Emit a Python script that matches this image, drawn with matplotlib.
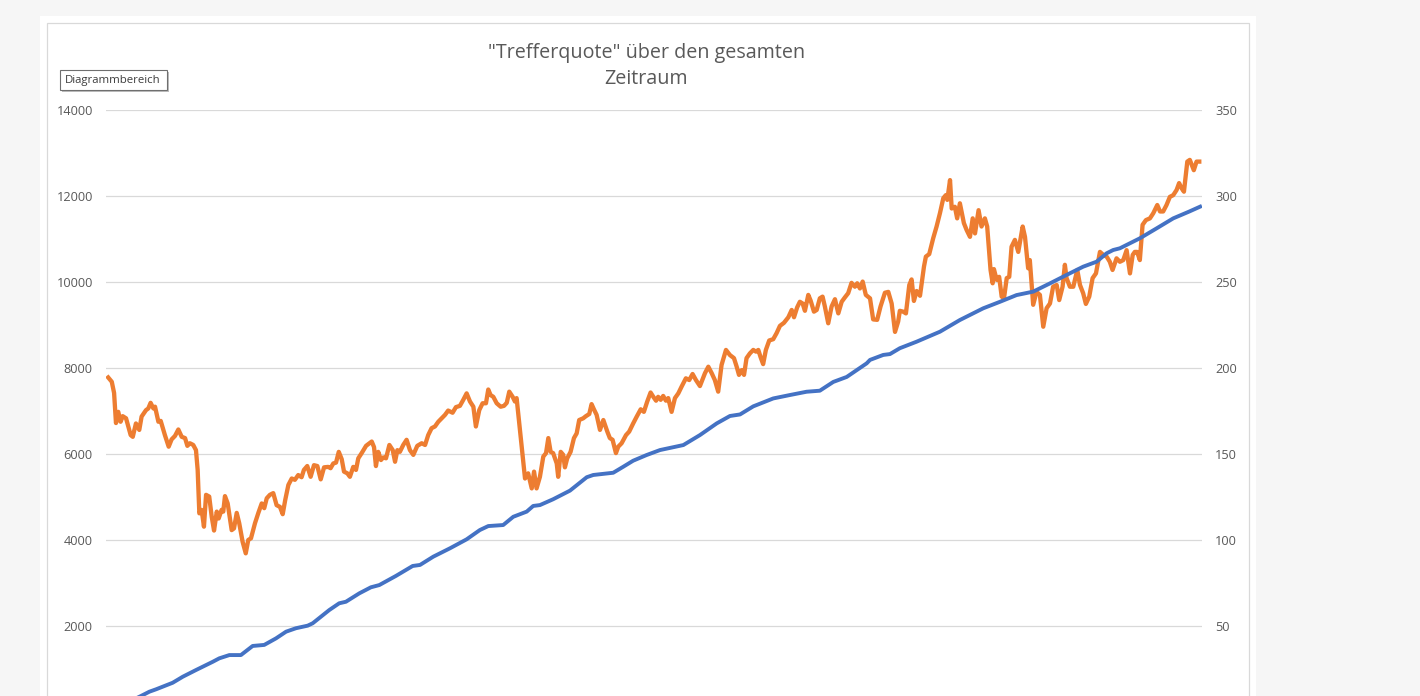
import matplotlib.pyplot as plt
from matplotlib.patches import Rectangle

W, H, DPI = 1420, 696, 100

TITLE_LINES = ['"Trefferquote" über den gesamten', "Zeitraum"]
TOOLTIP = "Diagrammbereich"

# orange series (left axis), x = week index
dax_week = [0.1, 1.8, 2.9, 3.8, 4.9, 6.0, 7.0, 8.6, 10.8, 11.8, 13.3, 14.9, 16.0, 18.1, 19.2,
            20.3, 21.6, 22.4, 24.0, 25.1, 27.1, 28.9, 30.3, 31.9, 33.5, 35.1, 36.7, 37.8, 39.0,
            40.6, 41.9, 42.7, 43.5, 44.6, 45.7, 46.7, 48.2, 49.4, 50.5, 51.8, 52.7, 54.1, 54.9,
            55.7, 57.0, 58.9, 60.0, 61.3, 62.5, 64.1, 65.6, 66.8, 68.1, 70.0, 71.6, 73.2, 74.4,
            75.6, 77.1, 78.7, 80.3, 81.9, 83.2, 84.4, 85.9, 87.5, 89.0, 90.6, 92.2, 93.3, 94.9,
            96.5, 98.1, 99.7, 101.3, 102.9, 104.9, 106.0, 107.3, 108.6, 109.9, 111.3, 112.4,
            114.0, 115.2, 116.8, 118.1, 119.2, 120.8, 122.9, 125.6, 126.7, 127.6, 128.7, 130.0,
            131.1, 132.4, 134.0, 135.6, 136.7, 137.8, 139.0, 140.6, 142.2, 143.8, 145.4, 147.3,
            149.4, 151.0, 152.5, 154.1, 155.7, 157.3, 158.9, 160.5, 162.0, 164.1, 165.7, 167.6,
            169.2, 170.8, 172.4, 174.0, 175.2, 176.8, 178.4, 180.0, 181.1, 182.2, 183.5, 185.1,
            187.0, 188.6, 189.9, 191.1, 192.7, 193.8, 194.6, 196.2, 197.5, 198.6, 200.1, 201.8,
            202.9, 204.1, 205.7, 207.3, 208.6, 209.7, 210.8, 212.0, 213.7, 214.4, 215.6, 216.8,
            217.6, 218.7, 220.3, 221.9, 223.2, 224.4, 226.3, 227.6, 229.2, 230.3, 231.4, 232.7,
            234.3, 235.9, 237.8, 239.0, 240.3, 241.9, 243.0, 244.6, 246.7, 248.2, 250.1, 251.8,
            253.7, 255.2, 256.8, 258.4, 259.7, 261.0, 262.0, 263.2, 264.4, 265.7, 266.8, 268.4,
            270.0, 271.6, 273.2, 275.2, 276.8, 278.4, 280.0, 281.9, 284.3, 285.9, 287.5, 289.0,
            290.6, 292.2, 294.3, 296.2, 298.1, 299.4, 300.5, 301.8, 302.9, 304.1, 305.7, 307.3,
            308.6, 309.7, 310.8, 312.0, 313.3, 314.9, 316.8, 318.4, 320.0, 321.9, 324.0, 325.6,
            326.7, 328.2, 329.5, 330.8, 331.9, 333.5, 334.6, 336.2, 337.5, 339.0, 340.3, 341.4,
            343.0, 344.6, 346.2, 347.8, 349.4, 350.9, 352.5, 354.1, 355.7, 356.8, 358.1, 359.4,
            360.9, 362.9, 364.4, 366.3, 367.9, 370.0, 371.6, 373.2, 374.8, 376.3, 377.1, 378.7,
            380.0, 381.6, 382.7, 383.8, 385.1, 386.7, 388.6, 389.5, 391.1, 393.0, 394.6, 396.2,
            397.8, 399.0, 399.7, 401.0, 401.8, 403.3, 404.4, 405.7, 407.6, 408.9, 410.5, 411.8,
            412.9, 414.6, 416.0, 417.6, 418.7, 420.3, 421.3, 421.9, 423.2, 424.4, 425.6, 426.7,
            428.0, 429.2, 430.3, 431.9, 433.5, 435.6, 436.7, 438.2, 439.0, 440.6, 442.2, 443.8,
            445.4, 447.0, 448.6, 450.1, 451.8, 453.0, 454.6, 455.7, 456.5, 458.1, 459.7, 461.6,
            462.9, 464.4, 465.7, 467.3, 468.9, 470.5, 472.4, 474.0, 475.6, 477.1, 478.4, 480.3,
            481.9, 483.5, 485.1, 486.7, 488.0, 489.0, 490.1, 491.4, 492.7, 494.3, 496.2, 497.8,
            499.7, 501.0, 502.5, 504.1, 505.7, 507.3, 508.9, 510.1, 511.3, 512.4, 514.0, 515.2,
            517.1, 518.4, 519.7]
dax_value = [7780, 7680, 7420, 6720, 6980, 6750, 6880, 6830, 6440, 6400, 6710, 6560, 6870, 7020, 7060,
             7190, 7060, 7100, 6750, 6770, 6440, 6170, 6340, 6420, 6570, 6400, 6370, 6190, 6250,
             6210, 6090, 5630, 4620, 4700, 4310, 5050, 5010, 4540, 4220, 4660, 4500, 4700, 4660,
             5020, 4850, 4230, 4270, 4630, 4390, 3960, 3690, 4000, 4040, 4390, 4630, 4850, 4740,
             4970, 5050, 5090, 4810, 4770, 4600, 4930, 5280, 5430, 5400, 5510, 5460, 5630, 5720,
             5470, 5740, 5720, 5410, 5690, 5700, 5670, 5780, 5800, 6050, 5880, 5590,
             5550, 5470, 5700, 5630, 5900, 6020, 6190, 6290, 6160, 5720, 6050, 5860,
             5920, 5900, 6210, 6090, 5820, 6090, 6050, 6210, 6330, 6090, 5980, 6190,
             6250, 6210, 6440, 6600, 6640, 6750, 6830, 6910, 7010, 6960, 7090, 7120,
             7260, 7410, 7220, 7100, 6640, 7020, 7180, 7180, 7500, 7370, 7330, 7180,
             7100, 7120, 7190, 7450, 7330, 7220, 7300, 6560, 5940, 5430, 5550, 5200,
             5590, 5200, 5470, 5940, 6020, 6370, 6050, 6020, 5780, 5470, 6050, 5980,
             5690, 5900, 6050, 6370, 6480, 6790, 6830, 6880, 6930, 7160, 7040, 6910,
             6560, 6790, 6520, 6370, 6330, 6020, 6170, 6250, 6440, 6520, 6710, 6870,
             7040, 6980, 7220, 7430, 7330, 7240, 7330, 7260, 7350, 7240, 7300, 6980,
             7300, 7410, 7570, 7760, 7720, 7860, 7720, 7580, 7880, 8030, 7880, 7720,
             7450, 8070, 8420, 8300, 8230, 8030, 7840, 7950, 7840, 8230, 8340, 8420,
             8380, 8420, 8250, 8090, 8420, 8640, 8670, 8810, 8980, 9050, 9180, 9350,
             9180, 9410, 9540, 9500, 9330, 9700, 9570, 9310, 9350, 9620, 9660, 9430,
             9040, 9430, 9600, 9270, 9540, 9640, 9740, 9980, 9890, 9970, 9850, 10010,
             9700, 9620, 9130, 9120, 9430, 9750, 9770, 9500, 8840, 9080, 9330, 9310,
             9270, 9930, 10060, 9560, 9790, 9680, 10360, 10590, 10650, 11020, 11290, 11600,
             11950, 12020, 11910, 12370, 11710, 11750, 11480, 11830, 11370, 11210, 11050, 11480,
             11130, 11670, 11290, 11480, 11290, 10280, 9970, 10300, 10050, 10120, 9660, 9620,
             10090, 10120, 10820, 10980, 10700, 11290, 11050, 10320, 10510, 9470, 9770, 9700,
             8960, 9390, 9500, 9890, 9930, 9580, 9890, 10400, 10090, 9890, 9890, 10280,
             9930, 9740, 9490, 9660, 10090, 10200, 10700, 10630, 10590, 10470, 10280, 10550,
             10470, 10510, 10740, 10200, 10630, 10700, 10700, 10510, 11330, 11440, 11480, 11600,
             11790, 11640, 11640, 11790, 11980, 12020, 12140, 12300, 12180, 12100, 12800, 12840,
             12600, 12800, 12800]

# blue series (right axis)
hits_week = [0.0, 15.7, 19.7, 22.9, 30.8, 35.6, 41.9, 49.9, 53.0, 57.8, 63.3, 68.9, 74.4, 80.0,
             84.8, 89.5, 95.1, 97.5, 105.4, 110.1, 113.3, 119.7, 125.2, 129.2, 137.1, 145.1,
             148.6, 154.9, 162.9, 170.8, 177.1, 181.1, 188.2, 193.0, 199.4, 202.5, 205.7, 212.0,
             220.0, 228.0, 231.1, 240.6, 245.4, 250.1, 256.5, 262.9, 274.0, 281.9, 289.9, 296.2,
             301.0, 307.3, 316.8, 324.8, 332.7, 339.0, 345.4, 351.8, 361.3, 362.9, 369.2, 372.4,
             377.1, 385.1, 396.2, 405.7, 416.8, 424.8, 432.7, 440.6, 448.6, 456.5, 464.4, 470.8,
             475.6, 478.7, 481.9, 491.4, 499.4, 507.3, 514.8, 520.1]
hits_value = [0.0, 9.3, 11.8, 13.2, 17.0, 20.5, 24.4, 29.2, 31.2, 33.1, 33.1, 38.4, 39.0, 42.8,
              46.7, 48.7, 50.2, 51.6, 59.3, 63.2, 64.1, 69.0, 72.5, 73.8, 79.1, 84.9,
              85.5, 90.3, 95.2, 100.4, 105.8, 108.1, 108.7, 113.5, 116.5, 119.8, 120.3, 123.7,
              128.7, 136.5, 137.8, 139.1, 142.6, 146.1, 149.4, 152.3, 155.2, 161.0, 167.8, 172.1,
              173.0, 177.7, 182.3, 184.3, 186.2, 186.8, 191.9, 194.8, 202.7, 204.7, 207.6, 208.1,
              211.5, 215.3, 221.1, 227.9, 234.7, 238.5, 242.4, 244.4, 249.2, 254.1, 258.9, 261.8,
              266.7, 268.6, 269.6, 275.4, 281.2, 287.0, 290.9, 293.8]

# the 0 labels sit below the visible part of the chart
left_ticks = [2000, 4000, 6000, 8000, 10000, 12000, 14000]
right_ticks = [50, 100, 150, 200, 250, 300, 350]

ORANGE = "#ED7D31"
BLUE = "#4472C4"
TXT = "#595959"
FONT = ["Open Sans", "DejaVu Sans"]


def fx(px):
    return px / W


def fy(py):
    return 1 - py / H


def main():
    plt.rcParams["font.family"] = FONT
    fig = plt.figure(figsize=(W / DPI, H / DPI), dpi=DPI, facecolor="#f6f6f6")

    # chart area (white panel with thin border), runs past the bottom edge
    fig.add_artist(Rectangle((fx(40), fy(730)), fx(1256) - fx(40), fy(16) - fy(730),
                             transform=fig.transFigure, facecolor="white", edgecolor="none", zorder=0))
    fig.add_artist(Rectangle((fx(46.5), fy(730)), fx(1248.5) - fx(46.5), fy(22.5) - fy(730),
                             transform=fig.transFigure, facecolor="white", edgecolor="#d9d9d9",
                             lw=0.9, zorder=0))

    ax = fig.add_axes([fx(106), fy(712), fx(1202) - fx(106), fy(110) - fy(712)])
    ax.set_facecolor("none")
    ax.plot(dax_week, dax_value, color=ORANGE, lw=3.1, solid_joinstyle="round", zorder=3)
    ax.set_xlim(-0.95, 521)
    ax.set_ylim(0, 14000)
    ax.set_yticks([0] + left_ticks, [""] + [str(t) for t in left_ticks])
    ax.set_xticks([])
    ax.grid(axis="y", color="#d9d9d9", lw=0.9)
    ax.set_axisbelow(True)
    for s in ax.spines.values():
        s.set_visible(False)
    ax.tick_params(axis="y", length=0, pad=9.5, labelsize=9.2, labelcolor=TXT)

    ax2 = ax.twinx()
    ax2.plot(hits_week, hits_value, color=BLUE, lw=2.8, solid_joinstyle="round", zorder=4)
    ax2.set_ylim(0, 350)
    ax2.set_yticks(right_ticks)
    for s in ax2.spines.values():
        s.set_visible(False)
    ax2.tick_params(axis="y", length=0, pad=9.5, labelsize=9.2, labelcolor=TXT)

    # two-line title, baselines as in the reference
    fig.text(fx(646.5), fy(58), TITLE_LINES[0], ha="center", va="baseline", fontsize=14.2, color=TXT)
    fig.text(fx(646.5), fy(84), TITLE_LINES[1], ha="center", va="baseline", fontsize=14.2, color=TXT)

    # tooltip box with a small shadow
    fig.add_artist(Rectangle((fx(62), fy(91.5)), fx(169) - fx(62), fy(72) - fy(91.5),
                             transform=fig.transFigure, facecolor="#bdbdbd", edgecolor="none",
                             zorder=5))
    fig.add_artist(Rectangle((fx(59.5), fy(89.5)), fx(166.5) - fx(59.5), fy(70.5) - fy(89.5),
                             transform=fig.transFigure, facecolor="white", edgecolor="#6f6f6f",
                             lw=0.8, zorder=6))
    fig.text(fx(113), fy(80), TOOLTIP, ha="center", va="center", fontsize=8.2,
             color="#3c3c3c", zorder=7)

    fig.savefig("out.png", dpi=DPI, facecolor=fig.get_facecolor())


if __name__ == "__main__":
    main()
